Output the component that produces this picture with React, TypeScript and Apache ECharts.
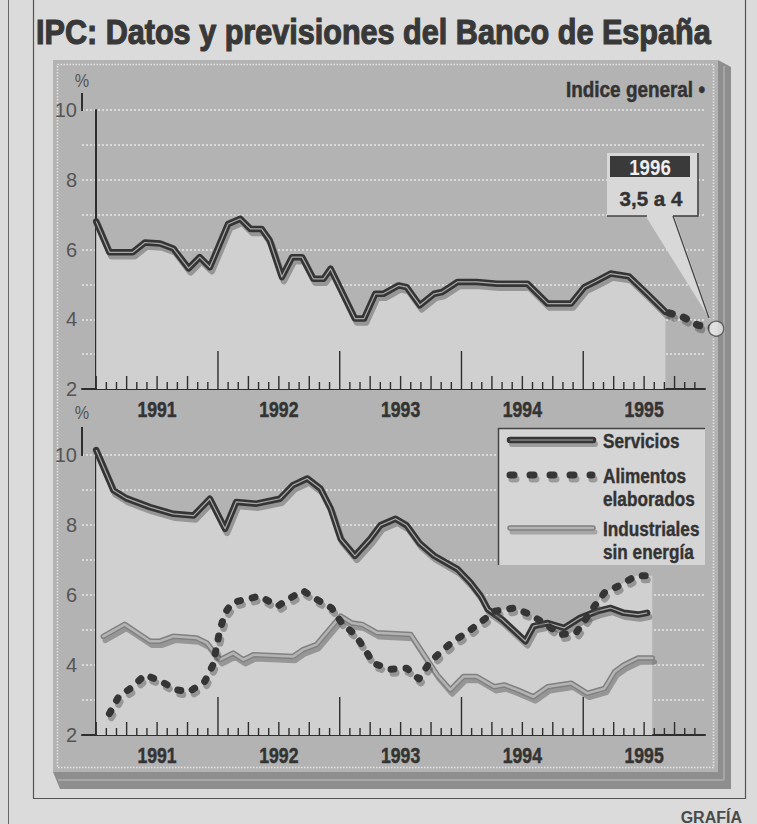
import React, { useEffect, useRef } from "react";
import * as echarts from "echarts";

const FONT = "'Liberation Sans', Arial, sans-serif";

// x = months since January 1991
const generalMonths = [0, 1.3, 3.6, 4.8, 6.3, 7.6, 9.1, 10.2, 11.2, 13, 14.2, 15.2, 16.3, 17.1, 18.3, 19.3, 20.3, 21.4, 22.4, 23.1, 25.5, 26.4, 27.5, 28.3, 29.8, 30.6, 31.9, 33.3, 34.1, 35.6, 37.5, 39.5, 42.5, 44.5, 46.8, 48.1, 49.4, 50.7, 52.5, 54.3, 56.1];
const generalValues = [6.8, 5.92, 5.92, 6.2, 6.17, 6.03, 5.46, 5.78, 5.49, 6.73, 6.88, 6.59, 6.59, 6.26, 5.21, 5.78, 5.78, 5.16, 5.16, 5.45, 4.02, 4.02, 4.73, 4.73, 4.97, 4.92, 4.4, 4.73, 4.78, 5.07, 5.07, 5.02, 5.02, 4.45, 4.45, 4.92, 5.11, 5.31, 5.23, 4.73, 4.21];
const forecastMonths = [56.1, 57.8, 59.3, 61.1];
const forecastValues = [4.21, 4.07, 3.83, 3.73];

const serviciosMonths = [0, 1.7, 3, 5.3, 7.6, 9.6, 11.2, 12.7, 13.8, 15.8, 18.1, 19.4, 20.8, 22.1, 23.1, 24.1, 25.5, 27, 28, 29.5, 30.6, 31.9, 33.3, 35.6, 36.9, 37.9, 38.6, 40, 42.3, 43.1, 44.5, 46.1, 47.7, 49.4, 50.7, 52, 53.4, 54.3];
const serviciosValues = [10.14, 8.99, 8.76, 8.51, 8.32, 8.27, 8.75, 7.89, 8.66, 8.61, 8.75, 9.14, 9.33, 9.04, 8.47, 7.6, 7.12, 7.6, 7.99, 8.18, 7.99, 7.47, 7.12, 6.74, 6.35, 5.97, 5.59, 5.3, 4.68, 5.11, 5.2, 5.06, 5.35, 5.54, 5.63, 5.49, 5.44, 5.49];

const alimentosMonths = [1.3, 2.2, 3.6, 4.8, 6.4, 7.9, 9.2, 10.7, 11.5, 12.2, 12.7, 13.4, 14.8, 16.1, 17.9, 18.9, 20.4, 21.7, 23.2, 24.2, 25.5, 26.5, 27.3, 29, 30.6, 31.8, 32.8, 34, 35.2, 36.7, 38, 39.3, 41.2, 42.8, 44.1, 45.8, 47.3, 49.1, 50.1, 51.5, 53.2, 54.8];
const alimentosValues = [2.61, 3.09, 3.38, 3.72, 3.53, 3.29, 3.24, 3.53, 4.0, 5.01, 5.49, 5.78, 5.88, 5.97, 5.68, 5.88, 6.12, 5.88, 5.63, 5.2, 4.87, 4.44, 4.05, 3.88, 3.91, 3.6, 4.05, 4.39, 4.68, 4.96, 5.25, 5.54, 5.63, 5.44, 5.2, 4.87, 4.92, 5.68, 6.07, 6.26, 6.55, 6.55];

const industrialesMonths = [0.7, 2.8, 5.3, 6.3, 7.6, 9.9, 10.9, 12.2, 13.5, 14.5, 15.5, 19.4, 20.4, 21.7, 24.1, 25.2, 26.2, 27.7, 31, 33.6, 34.9, 36.2, 37.5, 39.2, 40.2, 41.5, 43.1, 44.5, 46.8, 48.4, 50.1, 51.1, 52, 53.4, 54.8];
const industrialesValues = [4.82, 5.16, 4.68, 4.68, 4.82, 4.77, 4.63, 4.15, 4.34, 4.15, 4.29, 4.24, 4.44, 4.58, 5.4, 5.2, 5.16, 4.92, 4.87, 3.72, 3.29, 3.67, 3.67, 3.38, 3.43, 3.29, 3.09, 3.38, 3.48, 3.19, 3.33, 3.81, 4.0, 4.2, 4.2];

const yearLabels = ["1991", "1992", "1993", "1994", "1995"];
const yearLabelMonths = [6, 18, 30, 42, 54];
const tickMonths = Array.from({ length: 60 }, (_, i) => i);
const yTicks = [2, 4, 6, 8, 10];

const zip = (xs: number[], ys: number[]) => xs.map((x, i) => [x, ys[i]]);

const DARK = "#363636";
const SHADOW = { shadowColor: "rgba(80,80,80,0.45)", shadowOffsetX: 2, shadowOffsetY: 4, shadowBlur: 1 };

const txt = (
  x: number,
  y: number,
  text: string,
  size: number,
  opts: { bold?: boolean; fill?: string; align?: string; sx?: number; z?: number; heavy?: number } = {}
) => {
  const fill = opts.fill ?? "#333";
  return {
    type: "text",
    z: opts.z ?? 12,
    x,
    y,
    scaleX: opts.sx ?? 0.86,
    style: {
      text,
      fill,
      fontFamily: FONT,
      fontSize: size,
      fontWeight: opts.bold === false ? "normal" : "bold",
      stroke: opts.heavy ? fill : undefined,
      lineWidth: opts.heavy ?? 0,
      textAlign: opts.align ?? "left",
      textVerticalAlign: "middle",
    },
  };
};

export default function App() {
  const ref = useRef<HTMLDivElement>(null);
  useEffect(() => {
    if (!ref.current) return;
    const chart = echarts.init(ref.current, null, { renderer: "svg" });

    const xAxisBase = {
      type: "value",
      min: -1.4,
      max: 60,
      axisLine: { show: true, onZero: false, lineStyle: { color: "#2e2e2e", width: 2 } },
      axisTick: { show: false },
      axisLabel: { show: false },
      splitLine: { show: false },
    };
    const yAxisBase = {
      type: "value",
      min: 2,
      max: 10,
      interval: 1,
      axisLine: { show: true, lineStyle: { color: "#2e2e2e", width: 2 } },
      axisTick: { show: false },
      axisLabel: {
        color: "#555",
        fontFamily: FONT,
        fontSize: 20,
        margin: 5,
        formatter: (v: number) => (yTicks.indexOf(v) >= 0 ? String(v) : ""),
      },
      splitLine: { show: true, lineStyle: { color: "#e6e6e6", width: 1.5, type: [2, 2] } },
    };

    const ticksSeries = (idx: number) => ({
      type: "custom",
      xAxisIndex: idx,
      yAxisIndex: idx,
      silent: true,
      z: 6,
      data: tickMonths.map((m) => [m, 2]),
      renderItem: (params: any, api: any) => {
        const m = api.value(0);
        const p = api.coord([m, 2]);
        const len = m % 12 === 0 && m > 0 ? 38 : m % 3 === 0 ? 13 : 7;
        return {
          type: "line",
          shape: { x1: p[0], y1: p[1], x2: p[0], y2: p[1] - len },
          style: { stroke: "#2e2e2e", lineWidth: 1.4 },
        };
      },
    });
    const yearSeries = (idx: number) => ({
      type: "custom",
      xAxisIndex: idx,
      yAxisIndex: idx,
      silent: true,
      z: 6,
      data: yearLabelMonths.map((m) => [m, 2]),
      renderItem: (params: any, api: any) => {
        const p = api.coord([api.value(0), 2]);
        return {
          type: "text",
          x: p[0],
          y: p[1] + 20,
          scaleX: 0.8,
          style: {
            text: yearLabels[params.dataIndex],
            fill: "#333",
            fontFamily: FONT,
            fontSize: 22,
            fontWeight: "bold",
            stroke: "#333",
            lineWidth: 0.5,
            textAlign: "center",
            textVerticalAlign: "middle",
          },
        };
      },
    });

    const lineBase = { type: "line", showSymbol: false, symbol: "none", clip: false, silent: true, smooth: false };

    const option: any = {
      animation: false,
      backgroundColor: "#dbdbdb",
      grid: [
        { left: 82, right: 52, top: 110, height: 279 },
        { left: 82, right: 52, top: 455, height: 280 },
      ],
      xAxis: [
        { ...xAxisBase, gridIndex: 0 },
        { ...xAxisBase, gridIndex: 1 },
      ],
      yAxis: [
        { ...yAxisBase, gridIndex: 0 },
        { ...yAxisBase, gridIndex: 1 },
      ],
      series: [
        // top panel: índice general
        {
          ...lineBase,
          name: "Índice general",
          xAxisIndex: 0,
          yAxisIndex: 0,
          z: 3,
          data: zip(generalMonths, generalValues),
          lineStyle: { color: DARK, width: 6.5, join: "round", cap: "round", ...SHADOW },
          areaStyle: { color: "#d0d0d0", origin: "start", opacity: 1 },
        },
        {
          ...lineBase,
          xAxisIndex: 0,
          yAxisIndex: 0,
          z: 4,
          data: zip(generalMonths, generalValues),
          lineStyle: { color: "#a8a8a8", width: 1.2, join: "round" },
        },
        {
          ...lineBase,
          name: "Previsión",
          xAxisIndex: 0,
          yAxisIndex: 0,
          z: 4,
          data: zip(forecastMonths, forecastValues),
          lineStyle: { color: DARK, width: 7.5, cap: "round", type: [3, 12], dashOffset: -4, ...SHADOW },
        },
        {
          type: "scatter",
          xAxisIndex: 0,
          yAxisIndex: 0,
          clip: false,
          silent: true,
          z: 8,
          symbol: "circle",
          symbolSize: 15,
          data: [[forecastMonths[3], forecastValues[3]]],
          itemStyle: { color: "#e8e8e8", borderColor: "#4a4a4a", borderWidth: 1.3 },
        },
        ticksSeries(0),
        yearSeries(0),
        // bottom panel: light fills
        {
          ...lineBase,
          xAxisIndex: 1,
          yAxisIndex: 1,
          z: 1,
          data: zip(serviciosMonths, serviciosValues),
          lineStyle: { width: 0, opacity: 0 },
          areaStyle: { color: "#d0d0d0", origin: "start", opacity: 1 },
        },
        {
          ...lineBase,
          xAxisIndex: 1,
          yAxisIndex: 1,
          z: 1,
          data: zip(alimentosMonths, alimentosValues),
          lineStyle: { width: 0, opacity: 0 },
          areaStyle: { color: "#d0d0d0", origin: "start", opacity: 1 },
        },
        // Industriales sin energía
        {
          ...lineBase,
          name: "Industriales sin energía",
          xAxisIndex: 1,
          yAxisIndex: 1,
          z: 3,
          data: zip(industrialesMonths, industrialesValues),
          lineStyle: { color: "#808080", width: 5.5, join: "round", cap: "round", ...SHADOW },
        },
        {
          ...lineBase,
          xAxisIndex: 1,
          yAxisIndex: 1,
          z: 3,
          data: zip(industrialesMonths, industrialesValues),
          lineStyle: { color: "#b4b4b4", width: 2.5, join: "round", cap: "round" },
        },
        // Servicios
        {
          ...lineBase,
          name: "Servicios",
          xAxisIndex: 1,
          yAxisIndex: 1,
          z: 4,
          data: zip(serviciosMonths, serviciosValues),
          lineStyle: { color: DARK, width: 6.5, join: "round", cap: "round", ...SHADOW },
        },
        {
          ...lineBase,
          xAxisIndex: 1,
          yAxisIndex: 1,
          z: 4,
          data: zip(serviciosMonths, serviciosValues),
          lineStyle: { color: "#a8a8a8", width: 1.2, join: "round" },
        },
        // Alimentos elaborados
        {
          ...lineBase,
          name: "Alimentos elaborados",
          xAxisIndex: 1,
          yAxisIndex: 1,
          z: 5,
          data: zip(alimentosMonths, alimentosValues),
          lineStyle: { color: DARK, width: 7, cap: "round", join: "round", type: [3, 12], ...SHADOW },
        },
        ticksSeries(1),
        yearSeries(1),
      ],
      graphic: [
        // page frame lines
        { type: "line", z: -10, shape: { x1: 8.5, y1: 0, x2: 8.5, y2: 824 }, style: { stroke: "#666", lineWidth: 1 } },
        { type: "line", z: -10, shape: { x1: 33.5, y1: 0, x2: 33.5, y2: 798.5 }, style: { stroke: "#555", lineWidth: 1.2 } },
        { type: "line", z: -10, shape: { x1: 33, y1: 798.5, x2: 746, y2: 798.5 }, style: { stroke: "#555", lineWidth: 1.2 } },
        { type: "line", z: -10, shape: { x1: 745.5, y1: 0, x2: 745.5, y2: 798.5 }, style: { stroke: "#555", lineWidth: 1.2 } },
        // title
        txt(36, 32, "IPC: Datos y previsiones del Banco de España", 36, { fill: "#383838", sx: 0.85, heavy: 1.2 }),
        // panel shadow and panel
        {
          type: "polygon",
          z: -9,
          shape: { points: [[718, 60], [731, 67], [731, 789], [60, 789], [53, 772], [718, 772]] },
          style: { fill: "#8e8e8e" },
        },
        { type: "line", z: -9, shape: { x1: 724, y1: 66, x2: 724, y2: 780 }, style: { stroke: "#a6a6a6", lineWidth: 2 } },
        { type: "line", z: -9, shape: { x1: 58, y1: 780, x2: 724, y2: 780 }, style: { stroke: "#a6a6a6", lineWidth: 2 } },
        { type: "rect", z: -8, shape: { x: 53, y: 60, width: 665, height: 712 }, style: { fill: "#b3b3b3" } },
        {
          type: "rect",
          z: -7,
          shape: { x: 57.5, y: 64.5, width: 656, height: 703 },
          style: { fill: "none", stroke: "#e4e4e4", lineWidth: 1.5, lineDash: [1.5, 1.5] },
        },
        // y axis extensions and % labels
        { type: "line", z: 5, shape: { x1: 82, y1: 93, x2: 82, y2: 111 }, style: { stroke: "#2e2e2e", lineWidth: 2 } },
        { type: "line", z: 5, shape: { x1: 82, y1: 427, x2: 82, y2: 456 }, style: { stroke: "#2e2e2e", lineWidth: 2 } },
        txt(82, 81, "%", 18, { bold: false, fill: "#555", align: "center", sx: 0.9, z: 5 }),
        txt(82, 413, "%", 18, { bold: false, fill: "#555", align: "center", sx: 0.9, z: 5 }),
        // Índice general label
        txt(705, 89, "Indice general •", 22, { align: "right", sx: 0.86, heavy: 0.5 }),
        // callout 1996
        {
          type: "polygon",
          z: 9,
          shape: { points: [[645, 215], [674, 215], [711, 321]] },
          style: { fill: "#d8d8d8" },
        },
        { type: "rect", z: 9, shape: { x: 607, y: 153, width: 91, height: 63 }, style: { fill: "#d8d8d8" } },
        { type: "line", z: 10, shape: { x1: 673, y1: 216, x2: 709, y2: 318 }, style: { stroke: "#444", lineWidth: 1.3 } },
        { type: "line", z: 10, shape: { x1: 698, y1: 153, x2: 698, y2: 216.5 }, style: { stroke: "#444", lineWidth: 1.6 } },
        { type: "line", z: 10, shape: { x1: 607, y1: 216, x2: 647, y2: 216 }, style: { stroke: "#444", lineWidth: 1.6 } },
        { type: "line", z: 10, shape: { x1: 673, y1: 216, x2: 698, y2: 216 }, style: { stroke: "#444", lineWidth: 1.6 } },
        { type: "rect", z: 10, shape: { x: 610, y: 156, width: 80, height: 21 }, style: { fill: "#3a3a3a" } },
        txt(650, 167, "1996", 22, { fill: "#eeeeee", align: "center", sx: 0.85, z: 11 }),
        txt(651, 198, "3,5 a 4", 21, { align: "center", sx: 0.98, z: 11, heavy: 0.4 }),
        // legend box
        { type: "rect", z: 10, shape: { x: 498, y: 428, width: 207, height: 137 }, style: { fill: "#d5d5d5" } },
        { type: "line", z: 11, shape: { x1: 498, y1: 428.5, x2: 705, y2: 428.5 }, style: { stroke: "#444", lineWidth: 1.5 } },
        { type: "line", z: 11, shape: { x1: 498.5, y1: 428, x2: 498.5, y2: 565 }, style: { stroke: "#444", lineWidth: 1.5 } },
        // legend samples (shadow drawn as offset lighter copy)
        { type: "line", z: 11, shape: { x1: 512, y1: 444, x2: 595, y2: 444 }, style: { stroke: "#9c9c9c", lineWidth: 6, lineCap: "round" } },
        { type: "line", z: 11, shape: { x1: 510, y1: 440, x2: 593, y2: 440 }, style: { stroke: DARK, lineWidth: 6.5, lineCap: "round" } },
        { type: "line", z: 11, shape: { x1: 510, y1: 440, x2: 593, y2: 440 }, style: { stroke: "#a8a8a8", lineWidth: 1.2 } },
        { type: "line", z: 11, shape: { x1: 512, y1: 479, x2: 594, y2: 479 }, style: { stroke: "#9c9c9c", lineWidth: 7, lineCap: "round", lineDash: [4, 16] } },
        { type: "line", z: 11, shape: { x1: 510, y1: 475, x2: 592, y2: 475 }, style: { stroke: DARK, lineWidth: 7, lineCap: "round", lineDash: [4, 16] } },
        { type: "line", z: 11, shape: { x1: 512, y1: 532, x2: 595, y2: 532 }, style: { stroke: "#a6a6a6", lineWidth: 5, lineCap: "round" } },
        { type: "line", z: 11, shape: { x1: 510, y1: 528, x2: 593, y2: 528 }, style: { stroke: "#808080", lineWidth: 5.5, lineCap: "round" } },
        { type: "line", z: 11, shape: { x1: 510, y1: 528, x2: 593, y2: 528 }, style: { stroke: "#b4b4b4", lineWidth: 2.5, lineCap: "round" } },
        txt(603, 441, "Servicios", 20, { heavy: 0.4 }),
        txt(603, 476, "Alimentos", 20, { heavy: 0.4 }),
        txt(603, 499, "elaborados", 20, { heavy: 0.4 }),
        txt(603, 529, "Industriales", 20, { heavy: 0.4 }),
        txt(603, 552, "sin energía", 20, { heavy: 0.4 }),
        // source
        txt(742, 817, "GRAFÍA", 16, { fill: "#4a4a4a", align: "right", sx: 1, z: 10 }),
      ],
    };
    chart.setOption(option);
    return () => chart.dispose();
  }, []);
  return <div ref={ref} style={{ position: "absolute", left: 0, top: 0, width: 757, height: 824 }} />;
}
